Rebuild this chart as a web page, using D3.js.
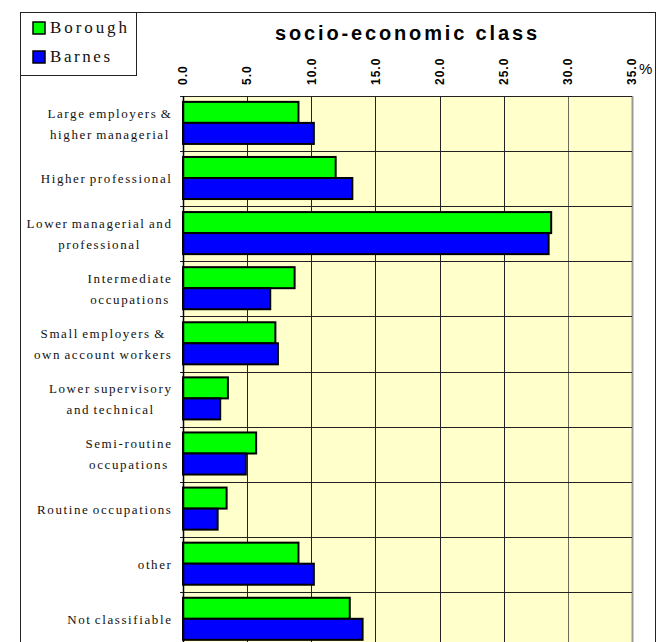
<!DOCTYPE html>
<html>
<head>
<meta charset="utf-8">
<script src="https://cdn.jsdelivr.net/npm/d3@7"></script>
<style>
  html, body { margin: 0; padding: 0; background: #fff; }
  svg { display: block; }
</style>
</head>
<body>
<svg id="chart" width="664" height="642"></svg>
<script>
// ---- data ----
const categories = [
  ["Large employers &", "higher managerial"],
  ["Higher professional"],
  ["Lower managerial and", "professional"],
  ["Intermediate", "occupations"],
  ["Small employers &", "own account workers"],
  ["Lower supervisory", "and technical"],
  ["Semi-routine", "occupations"],
  ["Routine occupations"],
  ["other"],
  ["Not classifiable"]
];
const seriesNames = ["Borough", "Barnes"];
const seriesColors = ["#00FF00", "#0000FF"];
const boroughValues = [9.0, 11.9, 28.7, 8.7, 7.2, 3.5, 5.7, 3.4, 9.0, 13.0];
const barnesValues  = [10.2, 13.2, 28.5, 6.8, 7.4, 2.9, 4.9, 2.7, 10.2, 14.0];
const tickValues = [0, 5, 10, 15, 20, 25, 30, 35];
const tickLabels = ["0.0", "5.0", "10.0", "15.0", "20.0", "25.0", "30.0", "35.0"];
const titleText = "socio-economic class";

const SERIF = '"Liberation Serif", "Times New Roman", serif';
const SANS = '"Liberation Sans", Arial, sans-serif';

// ---- layout ----
const svg = d3.select("#chart");
const plotLeft = 183, plotRight = 632, plotTop = 96, plotBottom = 647;
const catKeys = categories.map((c, i) => i);

const x = d3.scaleLinear().domain([0, 35]).range([plotLeft, plotRight]);
const y = d3.scaleBand().domain(catKeys).range([plotTop, plotBottom]).padding(0);
const ySub = d3.scaleBand().domain(seriesNames).range([0, y.bandwidth()])
  .paddingInner(0).paddingOuter(0.31).align(0.45);

// outer frame
svg.append("rect").attr("x", 20.5).attr("y", 12.5).attr("width", 635).attr("height", 640)
  .attr("fill", "none").attr("stroke", "#222").attr("stroke-width", 1);

// plot background
svg.append("rect").attr("x", plotLeft).attr("y", plotTop)
  .attr("width", plotRight - plotLeft).attr("height", plotBottom - plotTop)
  .attr("fill", "#FFFFCC");

// vertical grid
svg.append("g").selectAll("line").data(tickValues).join("line")
  .attr("x1", d => Math.round(x(d)) + 0.5).attr("x2", d => Math.round(x(d)) + 0.5)
  .attr("y1", plotTop).attr("y2", plotBottom)
  .attr("stroke", d => d === 35 ? "#999" : (d === 30 ? "#6b6b5a" : "#222"))
  .attr("stroke-width", d => d === 35 ? 2 : 1);

// horizontal grid at category boundaries
const bounds = catKeys.map(k => y(k)).concat([plotBottom]);
svg.append("g").selectAll("line").data(bounds).join("line")
  .attr("x1", plotLeft - 3).attr("x2", plotRight)
  .attr("y1", d => Math.round(d) + 0.5).attr("y2", d => Math.round(d) + 0.5)
  .attr("stroke", "#222").attr("stroke-width", 1);

// bars
const rows = [];
catKeys.forEach(k => {
  rows.push({k, s: seriesNames[0], v: boroughValues[k], c: seriesColors[0]});
  rows.push({k, s: seriesNames[1], v: barnesValues[k], c: seriesColors[1]});
});
svg.append("g").selectAll("rect").data(rows).join("rect")
  .attr("x", x(0))
  .attr("y", d => y(d.k) + ySub(d.s))
  .attr("width", d => x(d.v) - x(0))
  .attr("height", ySub.bandwidth())
  .attr("fill", d => d.c)
  .attr("stroke", "#000").attr("stroke-width", 2);

// left axis line
svg.append("line").attr("x1", plotLeft + 0.5).attr("x2", plotLeft + 0.5)
  .attr("y1", plotTop).attr("y2", plotBottom).attr("stroke", "#000").attr("stroke-width", 1.5);

// top axis labels (rotated)
svg.append("g").selectAll("text").data(tickValues).join("text")
  .attr("transform", d => `translate(${x(d)},85) rotate(-90)`)
  .attr("dy", "0.36em")
  .attr("text-anchor", "start")
  .style("font-family", SANS)
  .style("font-weight", "700").style("font-size", "12px")
  .style("letter-spacing", "1px")
  .attr("fill", "#000")
  .text((d, i) => tickLabels[i]);

svg.append("text").attr("x", 639).attr("y", 74)
  .style("font-family", SANS).style("font-size", "15px")
  .text("%");

// title
svg.append("text").attr("x", 275).attr("y", 40)
  .style("font-family", SANS)
  .style("font-weight", "700").style("font-size", "20px")
  .attr("textLength", 262).attr("lengthAdjust", "spacing")
  .text(titleText);

// category labels
const labelRight = 172.5;
const lineGap = 21;
catKeys.forEach(k => {
  const lines = categories[k];
  const cy = y(k) + y.bandwidth() / 2;
  const g = svg.append("g");
  const texts = lines.map((t, i) => g.append("text")
    .style("font-family", SERIF)
    .style("font-size", "13px")
    .style("letter-spacing", "1.6px")
    .style("word-spacing", "-1.5px")
    .attr("fill", "#111")
    .attr("text-anchor", "middle")
    .attr("y", cy + (i - (lines.length - 1) / 2) * lineGap + 4.5)
    .text(t));
  const widths = texts.map(t => t.node().getComputedTextLength());
  const maxW = d3.max(widths);
  texts.forEach(t => t.attr("x", labelRight - maxW / 2));
});

// legend
svg.append("rect").attr("x", 20.5).attr("y", 12.5).attr("width", 116).attr("height", 63)
  .attr("fill", "#fff").attr("stroke", "#222").attr("stroke-width", 1);
const legY = [22, 51];
const legLen = [77, 60];
seriesNames.forEach((s, i) => {
  svg.append("rect").attr("x", 33).attr("y", legY[i]).attr("width", 12).attr("height", 12)
    .attr("fill", seriesColors[i]).attr("stroke", "#000").attr("stroke-width", 1.5);
  svg.append("text").attr("x", 50).attr("y", legY[i] + 11)
    .style("font-family", SERIF).style("font-size", "17px")
    .attr("textLength", legLen[i]).attr("lengthAdjust", "spacing")
    .attr("fill", "#111")
    .text(s);
});
</script>
</body>
</html>
